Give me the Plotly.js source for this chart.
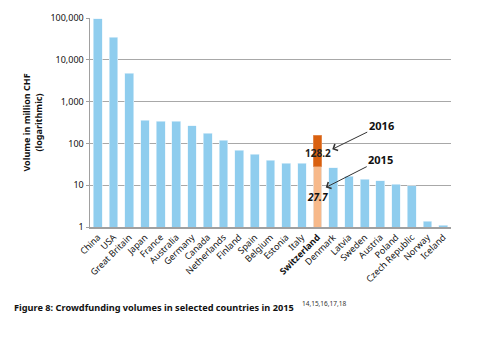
<!DOCTYPE html>
<html>
<head>
<meta charset="utf-8">
<script src="https://cdn.plot.ly/plotly-3.0.1.min.js"></script>
<style>html,body{margin:0;padding:0;background:#fff;}</style>
</head>
<body>
<div id="chart" style="width:485px;height:347px;"></div>
<script>
const countries = ["China","USA","Great Britain","Japan","France","Australia","Germany","Canada","Netherlands","Finland","Spain","Belgium","Estonia","Italy","Switzerland","Denmark","Latvia","Sweden","Austria","Poland","Czech Republic","Norway","Iceland"];
const volumes2015 = [95700,34800,4770,356,343,337,264,174,118,68,54.5,39.8,33.7,33.7,27.7,26,16.4,13.9,12.7,10.6,9.8,1.37,1.1];
const swiss2016Extra = 128.2;
const highlight = "Switzerland";
const yTickVals = [1,10,100,1000,10000,100000];
const yTickText = ["1","10","100","1,000","10,000","100,000"];

const blue = "#8fcdee", lightOrange = "#f7b98a", darkOrange = "#d9600f";
const colors = countries.map(c => c === highlight ? lightOrange : blue);
const extra = countries.map(c => c === highlight ? swiss2016Extra : null);
const tickText = countries.map(c => c === highlight ? "<b>" + c + "</b>" : c);
const swissIdx = countries.indexOf(highlight);

const FONT = "Noto Sans, Open Sans, sans-serif";

const traces = [
  {type:"bar", x:countries, y:volumes2015, marker:{color:colors, line:{color:"#e6f4fb", width:0.6}}, hoverinfo:"x+y"},
  {type:"bar", x:countries, y:extra, marker:{color:darkOrange, line:{color:"#e8a070", width:0.6}}, hoverinfo:"x+y"}
];

const layout = {
  width:485, height:347,
  margin:{l:90, r:34, t:18, b:120},
  paper_bgcolor:"#fff", plot_bgcolor:"#fff",
  barmode:"stack", bargap:0.44, showlegend:false,
  font:{family:FONT, size:9, color:"#111"},
  xaxis:{
    type:"category", tickmode:"array", tickvals:countries, ticktext:tickText,
    tickangle:-45, tickfont:{size:9, color:"#111"},
    showline:true, linecolor:"#a0a0a0", linewidth:1.5, ticks:"", showgrid:false
  },
  yaxis:{
    type:"log", range:[0,5], tickmode:"array", tickvals:yTickVals, ticktext:yTickText,
    tickfont:{size:9, color:"#111"},
    showline:true, linecolor:"#a0a0a0", linewidth:1.5,
    ticks:"outside", ticklen:3, tickcolor:"#a0a0a0",
    showgrid:true, gridcolor:"#a8a8a8", gridwidth:1, zeroline:false,
    title:{text:"<b>Volume in million CHF</b><br><b>(logarithmic)</b>", font:{size:9, color:"#111"}, standoff:6}
  },
  annotations:[
    {xref:"x", yref:"paper", x:swissIdx, y:0.355, xanchor:"center", yanchor:"middle", text:"<b>128.2</b>", showarrow:false, font:{size:10, color:"#222"}},
    {xref:"x", yref:"paper", x:swissIdx, y:0.144, xanchor:"center", yanchor:"middle", text:"<b><i>27.7</i></b>", showarrow:false, font:{size:10, color:"#111"}},
    {xref:"paper", yref:"paper", x:0.671, y:0.372, text:"<b>2016</b>", showarrow:true, ax:49, ay:-24,
     arrowhead:4, arrowsize:1.4, arrowwidth:1, arrowcolor:"#333", font:{size:11, color:"#111"}},
    {xref:"paper", yref:"paper", x:0.653, y:0.189, text:"<b>2015</b>", showarrow:true, ax:55, ay:-28,
     arrowhead:4, arrowsize:1.4, arrowwidth:1, arrowcolor:"#333", font:{size:11, color:"#111"}},
    {xref:"paper", yref:"paper", x:-0.216, y:-0.383, xanchor:"left", yanchor:"middle", showarrow:false,
     text:"<b>Figure 8: Crowdfunding volumes in selected countries in 2015</b>",
     font:{size:9.2, color:"#111"}},
    {xref:"paper", yref:"paper", x:0.583, y:-0.364, xanchor:"left", yanchor:"middle", showarrow:false,
     text:"14,15,16,17,18", font:{size:6.5, color:"#333"}}
  ]
};

Plotly.newPlot("chart", traces, layout, {displayModeBar:false, staticPlot:true});
</script>
</body>
</html>
